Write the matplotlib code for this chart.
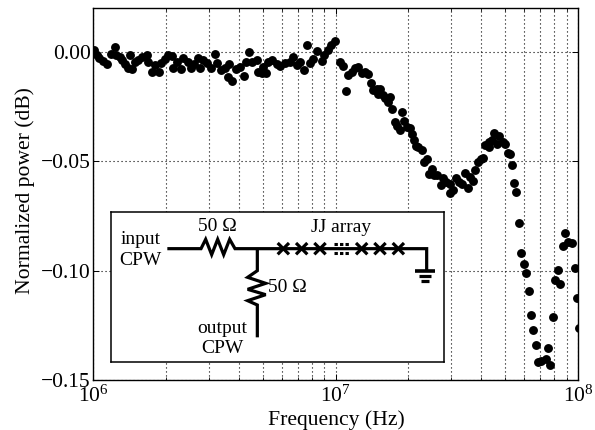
import numpy as np
import matplotlib
matplotlib.use("Agg")
import matplotlib.pyplot as plt

log10_freq_hz = [
6.006,6.015,6.025,6.043,6.056,6.074,6.091,6.094,6.111,6.121,6.132,6.143,6.160,6.153,6.173,6.187,6.204,6.221,6.228,6.242,
6.256,6.272,6.281,6.297,6.311,6.327,6.331,6.345,6.363,6.373,6.391,6.404,6.418,6.432,6.441,6.455,6.469,6.487,6.503,6.510,
6.528,6.545,6.556,6.562,6.573,6.589,6.606,6.623,6.630,6.644,6.655,6.675,6.682,6.696,6.703,6.715,6.723,6.740,6.758,6.771,
6.792,6.813,6.826,6.840,6.854,6.872,6.884,6.895,6.909,6.925,6.943,6.954,6.968,6.982,6.998,7.019,7.029,
7.045,7.053,7.069,7.080,7.094,7.108,7.122,7.133,7.145,7.153,7.170,7.184,7.177,7.197,7.204,7.225,7.215,7.234,7.246,7.255,7.266,
7.276,7.284,7.294,7.307,7.317,7.324,7.332,7.342,7.356,7.364,7.376,7.386,7.397,7.408,7.417,7.435,7.445,7.454,7.472,7.472,7.486,
7.496,7.510,7.520,7.534,7.545,7.555,7.566,7.577,7.587,7.599,7.607,7.617,7.635,7.631,7.644,7.655,7.668,7.676,7.690,7.699,7.710,
7.719,7.727,7.736,7.746,
7.757,7.765,7.776,7.787,7.797,7.806,7.816,7.827,7.837,7.849,7.867,7.876,7.886,7.897,7.907,7.916,7.926,7.937,7.946,7.957,7.977,7.986,7.995,8.003]

power_db = [
0.0008,-0.0015,-0.0030,-0.0043,-0.0056,-0.0012,0.0023,-0.0015,-0.0023,-0.0038,-0.0056,-0.0072,-0.0081,-0.0015,-0.0046,-0.0038,-0.0026,-0.0015,-0.0046,-0.0091,
-0.0061,-0.0094,-0.0050,-0.0035,-0.0015,-0.0020,-0.0076,-0.0046,-0.0081,-0.0030,-0.0046,-0.0076,-0.0056,-0.0030,-0.0076,-0.0038,-0.0053,-0.0076,-0.0012,-0.0053,
-0.0084,-0.0076,-0.0114,-0.0056,-0.0134,-0.0081,-0.0069,-0.0110,-0.0046,0.0,-0.0046,-0.0038,-0.0091,-0.0099,-0.0069,-0.0099,-0.0046,-0.0038,-0.0056,-0.0065,
-0.0053,-0.0046,-0.0026,-0.0061,-0.0046,-0.0084,0.0030,-0.0053,-0.0035,0.0005,-0.0043,-0.0015,0.0008,0.0030,0.0049,-0.0046,-0.0064,
-0.0180,-0.0107,-0.0091,-0.0076,-0.0069,-0.0099,-0.0091,-0.0102,-0.0142,-0.0175,-0.0172,-0.0168,-0.0195,-0.0198,-0.0213,-0.0209,-0.0228,-0.0262,-0.0320,-0.0340,-0.0358,
-0.0277,-0.0315,-0.0346,-0.0350,-0.0376,-0.0404,-0.0429,-0.0434,-0.0449,-0.0503,-0.0492,-0.0559,-0.0538,-0.0563,-0.0563,-0.0609,-0.0579,-0.0594,-0.0605,-0.0644,-0.0632,
-0.0576,-0.0594,-0.0605,-0.0556,-0.0624,-0.0571,-0.0591,-0.0541,-0.0506,-0.0490,-0.0487,-0.0426,-0.0434,-0.0414,-0.0404,-0.0373,-0.0423,-0.0384,-0.0411,-0.0422,-0.0464,
-0.0469,-0.0518,-0.0600,-0.0640,
-0.0781,-0.0920,-0.0970,-0.1013,-0.1094,-0.1205,-0.1270,-0.1339,-0.1416,-0.1413,-0.1404,-0.1352,-0.1432,-0.1212,-0.1042,-0.0996,-0.1060,-0.0888,-0.0830,-0.0871,-0.0876,-0.0990,-0.1127,-0.1264]

y_ticks = [0.0, -0.05, -0.10, -0.15]
y_tick_labels = ["0.00", "\u22120.05", "\u22120.10", "\u22120.15"]

plt.rcParams['font.family'] = ['Liberation Serif', 'DejaVu Serif']
plt.rcParams['mathtext.fontset'] = 'stix'

W, H = 595, 430
fig = plt.figure(figsize=(W/100, H/100), dpi=100)
L, R, T, B = 93, 578, 8, 380
ax = fig.add_axes([L/W, 1-B/H, (R-L)/W, (B-T)/H])
ax.set_xscale('log')
ax.plot(10**np.array(log10_freq_hz), power_db, 'o', color='k', ms=6.4, mew=0, zorder=3)
ax.set_xlim(1e6, 1e8)
ax.set_ylim(-0.15, 0.02)
ax.set_yticks(y_ticks)
ax.set_yticklabels(y_tick_labels)
dots = (0, (1, 2.6))
ax.grid(True, which='major', color='k', ls=dots, lw=0.8)
ax.grid(True, which='minor', axis='x', color='k', ls=dots, lw=0.8)
ax.tick_params(which='both', direction='in', top=True, right=True, labelsize=15.5)
ax.tick_params(which='major', length=4, width=0.7)
ax.tick_params(which='minor', length=2, width=0.6)
ax.tick_params(axis='x', pad=4)
ax.tick_params(axis='y', pad=1.5)
ax.set_xlabel("Frequency (Hz)", fontsize=15.6, va='center')
ax.set_ylabel("Normalized power (dB)", fontsize=15.6, va='center')
ax.xaxis.set_label_coords(0.501, -0.1075)
ax.yaxis.set_label_coords(-0.14, 0.51)
for s in ax.spines.values():
    s.set_linewidth(1.0)

# schematic inset, in its own drawing units
ix0, ix1 = 95+47/3, 95+1047/3
iy0, iy1 = 200+37/3, 200+487/3
ins = fig.add_axes([ix0/W, 1-iy1/H, (ix1-ix0)/W, (iy1-iy0)/H], zorder=5)
ins.set_xlim(47, 1047)
ins.set_ylim(487, 37)
ins.set_xticks([]); ins.set_yticks([])
for s in ins.spines.values():
    s.set_linewidth(1.1)
wire = dict(color='k', lw=2.3, solid_capstyle='butt', solid_joinstyle='miter')
ins.plot([217, 318, 332, 350, 368, 386, 404, 420, 995, 995],
         [146, 146, 118, 164, 118, 164, 118, 146, 146, 212], **wire)
ins.plot([487, 487, 458, 512, 458, 512, 458, 487, 487],
         [146, 212, 232, 250, 268, 284, 302, 315, 412], **wire)
for cx in [565, 620, 675, 800, 855, 910]:
    ins.plot([cx-17, cx+17], [129, 163], **wire)
    ins.plot([cx-17, cx+17], [163, 129], **wire)
for yy in [131, 160]:
    ins.plot([718, 765], [yy, yy], color='k', lw=2.2, ls=(0, (1.1, 0.7)))
for half, yy, lw in [(30, 212, 2.6), (18, 227, 2.3), (12, 243, 2.3)]:
    ins.plot([990-half, 990+half], [yy, yy], color='k', lw=lw, solid_capstyle='butt')
txt = dict(fontsize=14, ha='center', va='center')
ins.text(137, 119, "input", **txt)
ins.text(137, 180, "CPW", **txt)
ins.text(366, 80, "50 \u03a9", **txt)
ins.text(738, 82, "JJ array", **txt)
ins.text(578, 261, "50 \u03a9", **txt)
ins.text(382, 384, "output", **txt)
ins.text(382, 446, "CPW", **txt)

fig.savefig("out.png", dpi=100)
